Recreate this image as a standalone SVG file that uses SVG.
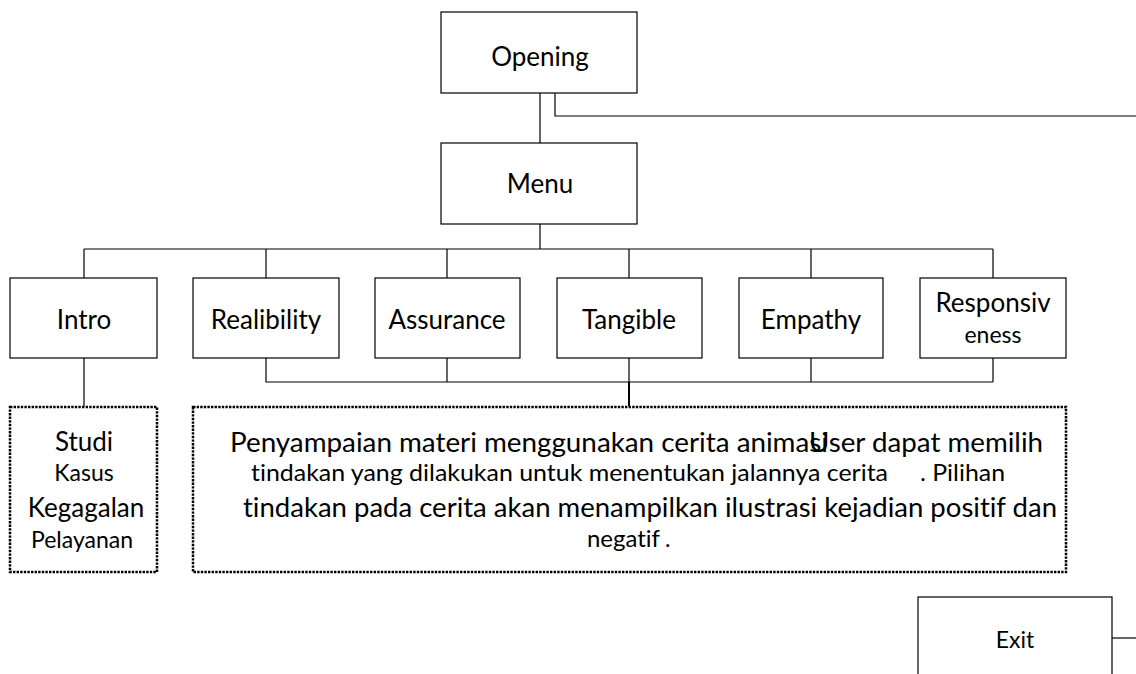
<svg xmlns="http://www.w3.org/2000/svg" width="1136" height="674" viewBox="0 0 1136 674">
<style>
.box{fill:#fff;stroke:#000;stroke-width:1.2}
.dot{fill:#fff;stroke:#000;stroke-width:2.5;stroke-dasharray:2.4 1.2}
.ln{fill:none;stroke:#000;stroke-width:1.2}
.t{font-family:Lato,"Liberation Sans",sans-serif;font-size:26px;fill:#000;text-anchor:middle;font-variant-ligatures:none}
.s{font-size:23px}
.l{text-anchor:start}
</style>
<rect width="1136" height="674" fill="#fff"/>
<g id="connectors">
<path class="ln" d="M540 93V143M555 93V116H1136M540 224V249M84 249H993M84 249V278M266 249V278M447 249V278M629 249V278M811 249V278M993 249V278"/>
<path class="ln" d="M266 358V382H993M447 358V382M629 358V382M811 358V382M993 358V382M84 358V406"/>
<path class="ln" style="stroke-width:2" d="M629 382V406"/>
<path class="ln" d="M1112 638H1136"/>
</g>
<g id="opening"><rect class="box" x="441" y="12" width="196" height="81"/><text class="t" x="540" y="66">Opening</text></g>
<g id="menu"><rect class="box" x="441" y="143" width="196" height="81"/><text class="t" x="540" y="193">Menu</text></g>
<g id="intro"><rect class="box" x="10" y="278" width="147" height="80"/><text class="t" x="84" y="329">Intro</text></g>
<g id="realibility"><rect class="box" x="193" y="278" width="146" height="80"/><text class="t" x="266" y="329">Realibility</text></g>
<g id="assurance"><rect class="box" x="375" y="278" width="145" height="80"/><text class="t" x="447" y="329">Assurance</text></g>
<g id="tangible"><rect class="box" x="557" y="278" width="145" height="80"/><text class="t" x="629" y="329">Tangible</text></g>
<g id="empathy"><rect class="box" x="739" y="278" width="144" height="80"/><text class="t" x="811" y="329">Empathy</text></g>
<g id="responsiveness"><rect class="box" x="920" y="278" width="146" height="80"/><text class="t" x="993" y="312">Responsiv</text><text class="t s" x="993" y="343">eness</text></g>
<g id="studi"><rect class="dot" x="10" y="407" width="147" height="165"/>
<text class="t" x="84" y="451">Studi</text><text class="t s" x="84" y="481">Kasus</text><text class="t" x="86" y="517">Kegagalan</text><text class="t s" x="82" y="548">Pelayanan</text></g>
<g id="desc"><rect class="dot" x="193" y="407" width="873" height="165"/>
<text class="t l" x="230" y="452" textLength="598" lengthAdjust="spacingAndGlyphs">Penyampaian materi menggunakan cerita animasi</text>
<text class="t l" x="809" y="452" textLength="234" lengthAdjust="spacingAndGlyphs">User dapat memilih</text>
<text class="t s l" x="251" y="481" textLength="637" lengthAdjust="spacingAndGlyphs">tindakan yang dilakukan untuk menentukan jalannya cerita</text>
<text class="t s l" x="920" y="481" textLength="85" lengthAdjust="spacingAndGlyphs">. Pilihan</text>
<text class="t l" x="243" y="517" textLength="814" lengthAdjust="spacingAndGlyphs">tindakan pada cerita akan menampilkan ilustrasi kejadian positif dan</text>
<text class="t s l" x="587" y="547" textLength="73" lengthAdjust="spacingAndGlyphs">negatif</text>
<text class="t s l" x="665" y="547">.</text></g>
<g id="exit"><rect class="box" x="918" y="597" width="194" height="90"/><text class="t s" x="1015" y="648">Exit</text></g>
</svg>
